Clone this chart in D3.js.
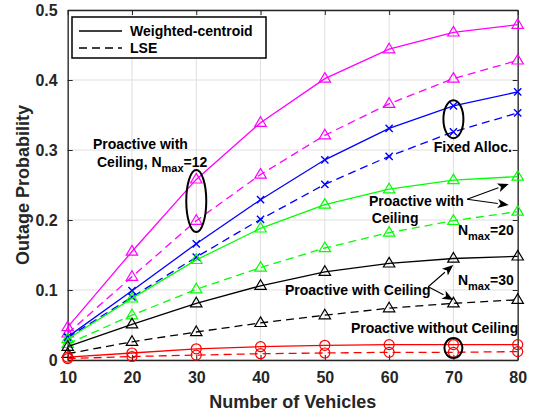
<!DOCTYPE html>
<html>
<head>
<meta charset="utf-8">
<script src="https://cdn.jsdelivr.net/npm/d3@7"></script>
<style>
  html, body { margin: 0; padding: 0; background: #fff; }
  svg { display: block; font-family: "Liberation Sans", Arial, Helvetica, sans-serif; font-weight: bold; }
</style>
</head>
<body>
<svg id="chart" width="535" height="415"></svg>
<script>
// ---------------- data ----------------
const vehicles = [10, 20, 30, 40, 50, 60, 70, 80];
const xTicks = [10, 20, 30, 40, 50, 60, 70, 80];
const yTicks = [0, 0.1, 0.2, 0.3, 0.4, 0.5];
const yTickLabels = ["0", "0.1", "0.2", "0.3", "0.4", "0.5"];

const ceil12Weighted = [0.047, 0.155, 0.258, 0.339, 0.402, 0.444, 0.468, 0.479];
const ceil12LSE      = [0.038, 0.119, 0.199, 0.265, 0.321, 0.366, 0.402, 0.428];
const fixedWeighted  = [0.033, 0.099, 0.166, 0.229, 0.286, 0.331, 0.363, 0.383];
const fixedLSE       = [0.032, 0.090, 0.147, 0.201, 0.251, 0.291, 0.326, 0.353];
const ceil20Weighted = [0.030, 0.088, 0.143, 0.188, 0.222, 0.244, 0.257, 0.262];
const ceil20LSE      = [0.023, 0.064, 0.101, 0.132, 0.160, 0.182, 0.199, 0.212];
const ceil30Weighted = [0.019, 0.051, 0.081, 0.106, 0.126, 0.138, 0.145, 0.148];
const ceil30LSE      = [0.009, 0.026, 0.040, 0.053, 0.064, 0.074, 0.081, 0.086];
const noCeilWeighted = [0.004, 0.010, 0.016, 0.019, 0.021, 0.022, 0.022, 0.022];
const noCeilLSE      = [0.002, 0.005, 0.007, 0.009, 0.010, 0.011, 0.011, 0.012];

const seriesList = [
  { values: ceil12Weighted, color: "#ff00ff", marker: "tri", dash: false },
  { values: ceil12LSE,      color: "#ff00ff", marker: "tri", dash: true },
  { values: fixedWeighted,  color: "#0000ff", marker: "x",   dash: false },
  { values: fixedLSE,       color: "#0000ff", marker: "x",   dash: true },
  { values: ceil20Weighted, color: "#00ff00", marker: "tri", dash: false },
  { values: ceil20LSE,      color: "#00ff00", marker: "tri", dash: true },
  { values: ceil30Weighted, color: "#000000", marker: "tri", dash: false },
  { values: ceil30LSE,      color: "#000000", marker: "tri", dash: true },
  { values: noCeilWeighted, color: "#ff0000", marker: "circle", dash: false },
  { values: noCeilLSE,      color: "#ff0000", marker: "circle", dash: true }
];

const legendItems = [
  { label: "Weighted-centroid", dash: false },
  { label: "LSE", dash: true }
];

// ---------------- layout ----------------
const svg = d3.select("#chart");
const margin = { left: 67.7, right: 535 - 517.7, top: 10, bottom: 415 - 360 };
const W = 535, H = 415;
const x = d3.scaleLinear().domain([10, 80]).range([margin.left, W - margin.right]);
const y = d3.scaleLinear().domain([0, 0.5]).range([H - margin.bottom, margin.top]);
const axisColor = "#262626";

// grid
const grid = svg.append("g");
grid.selectAll("line.gx").data(xTicks).join("line")
  .attr("x1", d => x(d)).attr("x2", d => x(d))
  .attr("y1", y(0)).attr("y2", y(0.5))
  .attr("stroke", "#dfdfdf").attr("stroke-width", 1);
grid.selectAll("line.gy").data(yTicks).join("line")
  .attr("y1", d => y(d)).attr("y2", d => y(d))
  .attr("x1", x(10)).attr("x2", x(80))
  .attr("stroke", "#dfdfdf").attr("stroke-width", 1);

// axes
const xAxis = d3.axisBottom(x).tickValues(xTicks).tickSizeInner(-5).tickSizeOuter(0).tickPadding(12).tickFormat(d3.format("d"));
const yAxis = d3.axisLeft(y).tickValues(yTicks).tickSizeInner(-5).tickSizeOuter(0).tickPadding(10)
  .tickFormat((d, i) => yTickLabels[i]);
const gx = svg.append("g").attr("transform", `translate(0,${y(0)})`).call(xAxis);
const gy = svg.append("g").attr("transform", `translate(${x(10)},0)`).call(yAxis);
const gxTop = svg.append("g").attr("transform", `translate(0,${y(0.5)})`)
  .call(d3.axisTop(x).tickValues(xTicks).tickSizeInner(-5).tickSizeOuter(0).tickFormat(""));
const gyRight = svg.append("g").attr("transform", `translate(${x(80)},0)`)
  .call(d3.axisRight(y).tickValues(yTicks).tickSizeInner(-5).tickSizeOuter(0).tickFormat(""));
[gx, gy, gxTop, gyRight].forEach(g => {
  g.select(".domain").attr("stroke", axisColor).attr("stroke-width", 1.3);
  g.selectAll(".tick line").attr("stroke", axisColor).attr("stroke-width", 1);
  g.selectAll(".tick text").attr("fill", axisColor)
    .style("font-size", "16px").style("font-weight", "bold")
    .style("font-family", "'Liberation Sans', Arial, sans-serif");
});

// axis titles
svg.append("text").attr("x", (x(10) + x(80)) / 2).attr("y", 408)
  .attr("text-anchor", "middle").attr("fill", axisColor)
  .style("font-size", "18px").text("Number of Vehicles");
svg.append("text")
  .attr("transform", `translate(29,${(y(0) + y(0.5)) / 2}) rotate(-90)`)
  .attr("text-anchor", "middle").attr("fill", axisColor)
  .style("font-size", "18px").text("Outage Probability");

// series
const plot = svg.append("g");
const line = d3.line().x((d, i) => x(vehicles[i])).y(d => y(d));
seriesList.forEach(s => {
  plot.append("path").datum(s.values)
    .attr("d", line).attr("fill", "none")
    .attr("stroke", s.color).attr("stroke-width", 1.3)
    .attr("stroke-dasharray", s.dash ? "8,5" : null);
  const mg = plot.append("g");
  s.values.forEach((v, i) => {
    const cx = x(vehicles[i]), cy = y(v);
    if (s.marker === "tri") {
      const r = 6;
      mg.append("path")
        .attr("d", `M${cx},${cy - r} L${cx + r * 0.95},${cy + r * 0.6} L${cx - r * 0.95},${cy + r * 0.6} Z`)
        .attr("fill", "none").attr("stroke", s.color).attr("stroke-width", 1.2);
    } else if (s.marker === "x") {
      const r = 3.6;
      mg.append("path")
        .attr("d", `M${cx - r},${cy - r} L${cx + r},${cy + r} M${cx - r},${cy + r} L${cx + r},${cy - r}`)
        .attr("fill", "none").attr("stroke", s.color).attr("stroke-width", 1.4);
    } else {
      mg.append("circle").attr("cx", cx).attr("cy", cy).attr("r", 5)
        .attr("fill", "none").attr("stroke", s.color).attr("stroke-width", 1.2);
    }
  });
});

// ---------------- annotations ----------------
const ann = svg.append("g").attr("fill", "#000").style("font-size", "14px");
function subText(g, xd, yd, parts) {
  const t = g.append("text").attr("x", x(xd)).attr("y", y(yd));
  parts.forEach(p => {
    const ts = t.append("tspan").text(p.t);
    if (p.sub) ts.attr("dy", 5).style("font-size", "11px");
    if (p.back) ts.attr("dy", -5);
  });
  return t;
}
subText(ann, 13.93, 0.3014, [{ t: "Proactive with" }]);
subText(ann, 14.56, 0.2757, [{ t: "Ceiling, N" }, { t: "max", sub: true }, { t: "=12", back: true }]);
subText(ann, 66.95, 0.297, [{ t: "Fixed Alloc." }]);
subText(ann, 56.85, 0.220, [{ t: "Proactive with" }]);
subText(ann, 57.3, 0.1957, [{ t: "Ceiling" }]);
subText(ann, 70.7, 0.1786, [{ t: "N" }, { t: "max", sub: true }, { t: "=20", back: true }]);
subText(ann, 70.7, 0.107, [{ t: "N" }, { t: "max", sub: true }, { t: "=30", back: true }]);
subText(ann, 43.8, 0.0929, [{ t: "Proactive with Ceiling" }]);
subText(ann, 54.06, 0.0386, [{ t: "Proactive without Ceiling" }]);

// ellipses
const ellipses = [
  { cx: 30, cy: 0.227, rx: 10, ry: 31 },
  { cx: 70, cy: 0.344, rx: 10, ry: 19 },
  { cx: 70, cy: 0.0171, rx: 9, ry: 10 }
];
ellipses.forEach(e => {
  svg.append("ellipse").attr("cx", x(e.cx)).attr("cy", y(e.cy))
    .attr("rx", e.rx).attr("ry", e.ry)
    .attr("fill", "none").attr("stroke", "#000").attr("stroke-width", 2);
});

// arrows
const arrows = [
  { x1: 72.13, y1: 0.2296, x2: 78.6, y2: 0.2514 },
  { x1: 72.13, y1: 0.2296, x2: 78.6, y2: 0.2214 },
  { x1: 66.08, y1: 0.1047, x2: 69.97, y2: 0.1357 },
  { x1: 66.08, y1: 0.1047, x2: 69.97, y2: 0.0857 }
];
arrows.forEach(a => {
  const X1 = x(a.x1), Y1 = y(a.y1), X2 = x(a.x2), Y2 = y(a.y2);
  const ang = Math.atan2(Y2 - Y1, X2 - X1);
  const L = 11, w = 4.5;
  const bx = X2 - L * Math.cos(ang), by = Y2 - L * Math.sin(ang);
  svg.append("line").attr("x1", X1).attr("y1", Y1).attr("x2", bx).attr("y2", by)
    .attr("stroke", "#000").attr("stroke-width", 1.1);
  const px = -Math.sin(ang) * w, py = Math.cos(ang) * w;
  svg.append("path")
    .attr("d", `M${X2},${Y2} L${bx + px},${by + py} L${bx + L * 0.25 * Math.cos(ang)},${by + L * 0.25 * Math.sin(ang)} L${bx - px},${by - py} Z`)
    .attr("fill", "#000");
});

// legend
const lg = svg.append("g");
lg.append("rect").attr("x", 72).attr("y", 17).attr("width", 194).attr("height", 41)
  .attr("fill", "#fff").attr("stroke", "#000").attr("stroke-width", 1.5);
legendItems.forEach((it, i) => {
  const ly = 31 + i * 17;
  lg.append("line").attr("x1", 79).attr("x2", 122).attr("y1", ly).attr("y2", ly)
    .attr("stroke", "#000").attr("stroke-width", 1.5)
    .attr("stroke-dasharray", it.dash ? "8,5" : null);
  lg.append("text").attr("x", 130).attr("y", ly + 5).style("font-size", "14px").attr("fill", "#000").text(it.label);
});
</script>
</body>
</html>
